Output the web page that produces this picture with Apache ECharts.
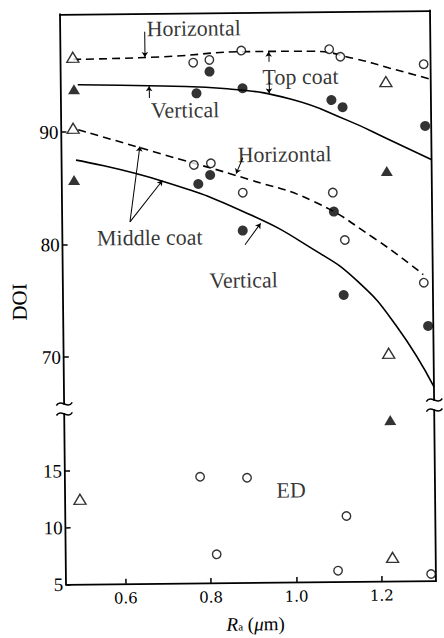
<!DOCTYPE html>
<html>
<head>
<meta charset="utf-8">
<script src="https://cdn.jsdelivr.net/npm/echarts@6/dist/echarts.min.js"></script>
<style>
  html, body { margin: 0; padding: 0; background: #fff; overflow: hidden; }
  #chart { width: 444px; height: 638px; transform: rotate(-0.6deg); transform-origin: 248.2px 297.75px; }
</style>
</head>
<body>
<div id="chart"></div>
<script>
// Axis ranges (Ra in micrometres, DOI split into an upper and a lower band)
const xRange = [0.4606, 1.3277];
const upperRange = [65.84, 100.48];
const lowerRange = [5, 20];
const xTicks = [0.6, 0.8, 1.0, 1.2];
const upperTicks = [70, 80, 90];
const lowerTicks = [5, 10, 15];

// Measured points, upper band
const openCircleUpper = [[0.771, 96.05], [0.809, 96.28], [0.884, 97.08], [1.090, 97.12], [1.116, 96.44], [1.311, 95.70],
  [0.770, 86.96], [0.810, 87.09], [0.884, 84.45], [1.095, 84.37], [1.122, 80.15], [1.306, 76.28]];
const filledCircleUpper = [[0.809, 95.24], [0.778, 93.32], [0.886, 93.73], [1.094, 92.60], [1.120, 91.95], [1.313, 90.21],
  [0.780, 85.26], [0.808, 86.05], [0.883, 81.08], [1.097, 82.68], [1.118, 75.26], [1.315, 72.43]];
const openTriangleUpper = [[0.489, 96.64], [0.488, 90.33], [1.222, 94.19], [1.222, 70.04]];
const filledTriangleUpper = [[0.491, 93.80], [0.489, 85.73], [1.222, 86.24]];

// Measured points, lower band (ED)
const openCircleLower = [[0.777, 14.35], [0.887, 14.22], [1.119, 10.76], [0.814, 7.51], [1.098, 5.96], [1.316, 5.58]];
const openTriangleLower = [[0.495, 12.48], [1.226, 7.08]];
const filledTriangleLower = [[1.224, 19.16]];

// Trend curves
const topCoatHorizontal = [[0.49, 96.45], [0.7, 96.6], [0.9, 96.98], [1.05, 96.95], [1.15, 96.25], [1.23, 95.4], [1.3277, 94.35]];
const topCoatVertical = [[0.5, 94.2], [0.7, 94.0], [0.85, 93.7], [1.0, 92.7], [1.13, 90.8], [1.23, 89.0], [1.3277, 87.2]];
const middleCoatHorizontal = [[0.5, 90.2], [0.7, 87.9], [0.9, 85.6], [1.05, 83.6], [1.19, 80.3], [1.305, 77.0]];
const middleCoatVertical = [[0.494, 87.5], [0.7, 85.5], [0.9, 82.5], [1.05, 79.3], [1.15, 76.5], [1.24, 72.5], [1.3277, 67.0]];

// Annotation texts (data coordinates of their centres)
const upperNotes = [
  { name: 'Horizontal', value: [0.773, 99.11] },
  { name: 'Top coat', value: [1.022, 94.71] },
  { name: 'Vertical', value: [0.751, 91.85] },
  { name: 'Horizontal', value: [0.983, 87.83] },
  { name: 'Middle coat', value: [0.665, 80.55] },
  { name: 'Vertical', value: [0.884, 76.68] }
];
const lowerNotes = [{ name: 'ED', value: [0.990, 13.1] }];

// Leader lines from a note to its curve
const leaders = [
  [[0.658, 98.85], [0.658, 96.6]],
  [[0.948, 96.05], [0.948, 96.95]],
  [[0.948, 94.24], [0.948, 93.25]],
  [[0.667, 92.95], [0.667, 94.0]],
  [[0.885, 87.55], [0.869, 86.15]],
  [[0.619, 81.96], [0.644, 88.65]],
  [[0.619, 81.96], [0.696, 85.6]],
  [[0.888, 79.82], [0.925, 81.7]]
];

const SERIF = 'Liberation Serif';
const INK = '#000';

const chart = echarts.init(document.getElementById('chart'), null, { renderer: 'svg' });

const frameLine = { show: true, onZero: false, lineStyle: { color: INK, width: 1.8 } };
const noTick = { show: false };
const noLabel = { show: false };
const noSplit = { show: false };

function marks(data, xi, yi, symbol, size, filled) {
  return {
    type: 'scatter', xAxisIndex: xi, yAxisIndex: yi, data: data,
    symbol: symbol, symbolSize: size, silent: true, z: 5,
    itemStyle: { color: filled ? INK : '#fff', borderColor: INK, borderWidth: filled ? 0 : 1.4 }
  };
}

function curve(data, dashed) {
  return {
    type: 'line', xAxisIndex: 0, yAxisIndex: 0, data: data, smooth: 0.5,
    symbol: 'none', silent: true, z: 3,
    lineStyle: { color: INK, width: 1.6, type: dashed ? [8, 5] : 'solid' }
  };
}

function notes(data, xi, yi) {
  return {
    type: 'scatter', xAxisIndex: xi, yAxisIndex: yi, data: data, symbolSize: 1, silent: true, z: 6,
    itemStyle: { color: 'rgba(0,0,0,0)' },
    label: { show: true, position: 'inside', formatter: '{b}', fontFamily: SERIF, fontSize: 22, color: INK }
  };
}

chart.setOption({
  animation: false,
  backgroundColor: '#fff',
  grid: [
    { left: 63.2, width: 370, top: 12.25, height: 389.75 },
    { left: 63.2, width: 370, top: 412, height: 170.5 }
  ],
  xAxis: [
    { gridIndex: 0, type: 'value', min: xRange[0], max: xRange[1], position: 'top',
      axisLine: frameLine, axisTick: noTick, axisLabel: noLabel, splitLine: noSplit },
    { gridIndex: 1, type: 'value', min: xRange[0], max: xRange[1], position: 'bottom',
      axisLine: frameLine,
      axisTick: { show: true, inside: true, length: 5, customValues: xTicks, lineStyle: { color: INK, width: 1.5 } },
      axisLabel: { customValues: xTicks, formatter: v => v.toFixed(1), margin: 7, fontFamily: 'DejaVu Serif', fontSize: 15, color: INK },
      splitLine: noSplit,
      name: '{r|R}{s|a}{u| (}{m|μ}{u|m)}', nameLocation: 'middle', nameGap: 32,
      nameTextStyle: {
        padding: [0, 0, 0, 8],
        rich: {
          r: { fontFamily: SERIF, fontStyle: 'italic', fontSize: 19, color: INK },
          s: { fontFamily: SERIF, fontSize: 11, color: INK, padding: [5, 0, 0, 0] },
          u: { fontFamily: SERIF, fontSize: 19, color: INK },
          m: { fontFamily: SERIF, fontStyle: 'italic', fontSize: 19, color: INK }
        }
      } }
  ],
  yAxis: [
    { gridIndex: 0, type: 'value', min: upperRange[0], max: upperRange[1], position: 'left',
      axisLine: frameLine,
      axisTick: { show: true, inside: true, length: 5, customValues: upperTicks, lineStyle: { color: INK, width: 1.5 } },
      axisLabel: { customValues: upperTicks, margin: 3, fontFamily: SERIF, fontSize: 19, color: INK },
      splitLine: noSplit },
    { gridIndex: 0, type: 'value', min: upperRange[0], max: upperRange[1], position: 'right',
      axisLine: frameLine, axisTick: noTick, axisLabel: noLabel, splitLine: noSplit },
    { gridIndex: 1, type: 'value', min: lowerRange[0], max: lowerRange[1], position: 'left',
      axisLine: frameLine,
      axisTick: { show: true, inside: true, length: 5, customValues: lowerTicks, lineStyle: { color: INK, width: 1.5 } },
      axisLabel: { customValues: lowerTicks, margin: 3, fontFamily: SERIF, fontSize: 19, color: INK },
      splitLine: noSplit },
    { gridIndex: 1, type: 'value', min: lowerRange[0], max: lowerRange[1], position: 'right',
      axisLine: frameLine, axisTick: noTick, axisLabel: noLabel, splitLine: noSplit }
  ],
  series: [
    curve(topCoatHorizontal, true),
    curve(topCoatVertical, false),
    curve(middleCoatHorizontal, true),
    curve(middleCoatVertical, false),
    marks(openCircleUpper, 0, 0, 'circle', 8.5, false),
    marks(filledCircleUpper, 0, 0, 'circle', 10, true),
    marks(openTriangleUpper, 0, 0, 'triangle', [12, 10], false),
    marks(filledTriangleUpper, 0, 0, 'triangle', [12, 10], true),
    marks(openCircleLower, 1, 2, 'circle', 8.5, false),
    marks(openTriangleLower, 1, 2, 'triangle', [12, 10], false),
    marks(filledTriangleLower, 1, 2, 'triangle', [12, 10], true),
    notes(upperNotes, 0, 0),
    notes(lowerNotes, 1, 2),
    {
      type: 'lines', coordinateSystem: 'cartesian2d', xAxisIndex: 0, yAxisIndex: 0, silent: true, z: 4,
      symbol: ['none', 'arrow'], symbolSize: 5,
      lineStyle: { color: INK, width: 1, opacity: 1, curveness: 0 },
      data: leaders.map(c => ({ coords: c }))
    }
  ]
});

// Break marks where the value axis is interrupted, plus the DOI title
const gapTop = chart.convertToPixel({ xAxisIndex: 0, yAxisIndex: 0 }, [xRange[0], upperRange[0]]);
const gapBottom = chart.convertToPixel({ xAxisIndex: 1, yAxisIndex: 2 }, [xRange[1], lowerRange[1]]);
const leftX = gapTop[0];
const rightX = gapBottom[0];

function wave(cx, cy) {
  return {
    type: 'bezierCurve', silent: true, z: 10,
    shape: { x1: cx - 8, y1: cy + 1.5, cpx1: cx - 3, cpy1: cy - 6, cpx2: cx + 3, cpy2: cy + 6, x2: cx + 8, y2: cy - 1.5 },
    style: { stroke: INK, lineWidth: 1.5, fill: null }
  };
}

chart.setOption({
  graphic: [
    wave(leftX, gapTop[1]), wave(leftX, gapBottom[1]),
    wave(rightX, gapTop[1]), wave(rightX, gapBottom[1]),
    {
      type: 'text', silent: true, x: leftX - 43.7, y: 299.6, rotation: Math.PI / 2,
      style: { text: 'DOI', fontFamily: SERIF, fontSize: 21, fill: INK, textAlign: 'center', textVerticalAlign: 'middle', verticalAlign: 'middle' }
    }
  ]
});
</script>
</body>
</html>
